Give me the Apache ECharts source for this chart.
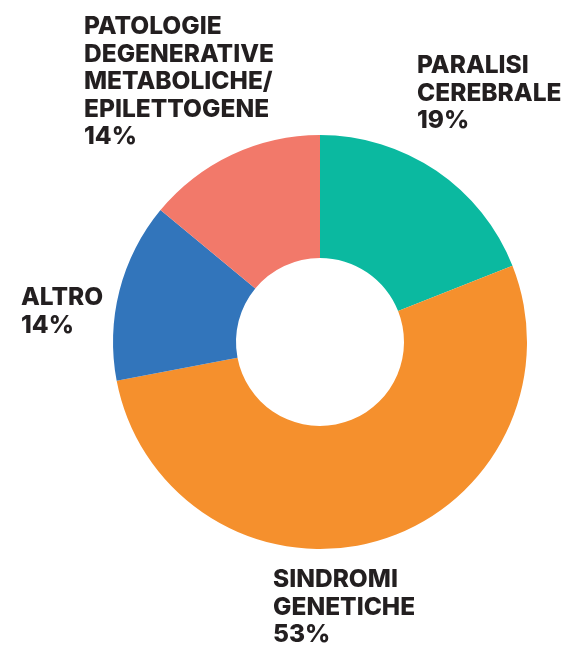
<!DOCTYPE html>
<html>
<head>
<meta charset="utf-8">
<script src="https://cdn.jsdelivr.net/npm/echarts@6/dist/echarts.min.js"></script>
<style>
html,body{margin:0;padding:0;background:#fff;}
#chart{width:568px;height:645px;}
</style>
</head>
<body>
<div id="chart"></div>
<script>
var categories = ['PARALISI\nCEREBRALE', 'SINDROMI\nGENETICHE', 'ALTRO', 'PATOLOGIE\nDEGENERATIVE\nMETABOLICHE/\nEPILETTOGENE'];
var values = [19, 53, 14, 14];
var colors = ['#0bb9a0', '#f5902d', '#3275bb', '#f2796a'];
var labelPos = [[417, 52], [273, 566], [21, 284], [84, 13]];

var chart = echarts.init(document.getElementById('chart'));
chart.setOption({
  animation: false,
  series: [{
    type: 'pie',
    center: [320, 342],
    radius: [84, 207],
    startAngle: 90,
    clockwise: true,
    percentPrecision: 0,
    data: categories.map(function (c, i) {
      return { name: c, value: values[i], itemStyle: { color: colors[i] } };
    }),
    label: {
      show: true,
      position: 'outside',
      alignTo: 'none',
      overflow: 'none',
      formatter: '{b}\n{d}%',
      fontFamily: 'Inter',
      fontWeight: 800,
      fontSize: 24.5,
      lineHeight: 27.5,
      color: '#231f20',
      align: 'left'
    },
    labelLine: { show: false },
    labelLayout: function (params) {
      var p = labelPos[params.dataIndex];
      return { x: p[0], y: p[1], align: 'left', verticalAlign: 'top' };
    },
    emphasis: { disabled: true }
  }]
});
</script>
</body>
</html>
